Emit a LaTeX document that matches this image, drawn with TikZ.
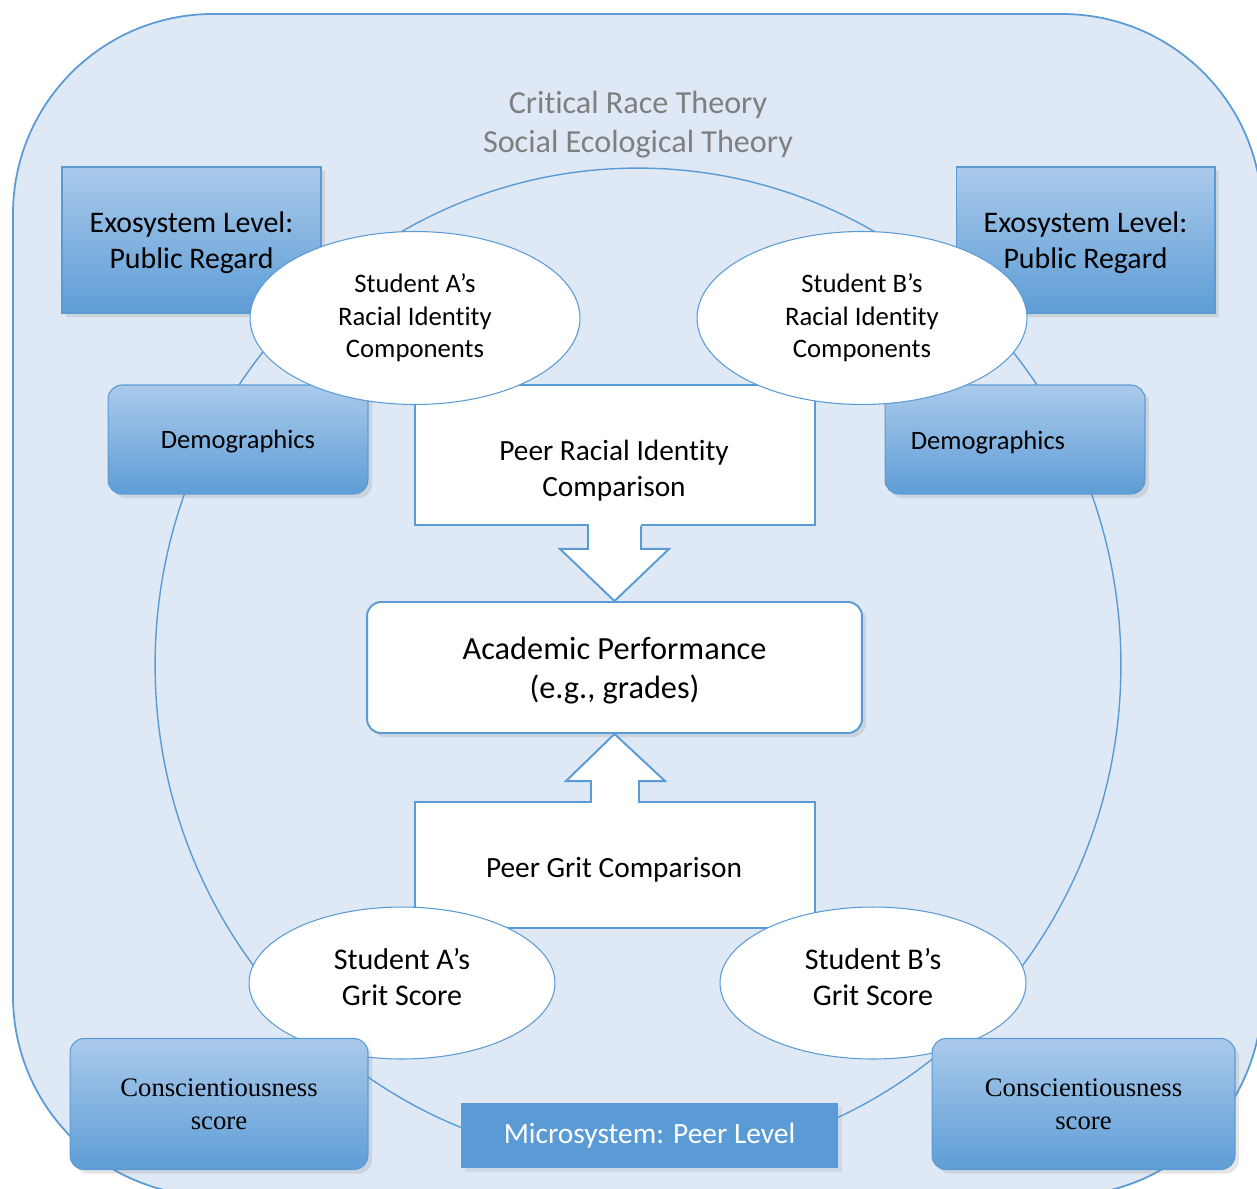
\documentclass[tikz,border=0pt]{standalone}
\usepackage{fontspec}
\setmainfont{Carlito}[Ligatures={CommonOff,ContextualOff}]
\newfontfamily\serifscore{Liberation Serif}
\usetikzlibrary{shapes.geometric, shadows, calc}
\definecolor{ecoline}{HTML}{5B9BD5}
\definecolor{ecobg}{HTML}{DEE9F5}
\definecolor{ecotop}{HTML}{AACAEB}
\definecolor{ecobot}{HTML}{5E9DD6}
\definecolor{ecogray}{HTML}{7F7F7F}

\begin{document}
\begin{tikzpicture}[
    x=0.02cm, y=-0.02cm,
    levelbox/.style={draw=ecoline,line width=0.6pt,top color=ecotop,bottom color=ecobot,align=center,drop shadow={opacity=0.2}},
    identity/.style={ellipse,draw=ecoline,line width=0.6pt,fill=white,align=center,inner sep=0pt},
    peerbox/.style={draw=ecoline,line width=1.1pt,fill=white,align=center,inner sep=0pt,minimum width=8cm},
    blockarrow/.style={draw=ecoline,line width=1.1pt,fill=white},
  ]
    \useasboundingbox (0,0) rectangle (1257,1189);
    \clip (0,0) rectangle (1257,1189);
    \fill[white] (0,0) rectangle (1257,1189);

    % outer frame and peer-level circle
    \draw[ecoline,fill=ecobg,line width=1pt,rounded corners=4cm] (13,14) rectangle (1262,1196);
    \node[ellipse,draw=ecoline,line width=0.8pt,minimum width=19.32cm,minimum height=19.88cm] (peerlevel) at (638,665) {};
    \node[align=center,text=ecogray,font=\fontsize{18.3}{22.2}\selectfont] (theory) at (638,125) {Critical Race Theory\\Social Ecological Theory};

    % exosystem and demographics
    \node[levelbox,minimum width=5.18cm,minimum height=2.92cm,text depth=0pt,font=\fontsize{17}{20.5}\selectfont] (exoA) at (191.5,240) {Exosystem Level:\\Public Regard};
    \node[levelbox,minimum width=5.18cm,minimum height=2.92cm,text depth=0pt,font=\fontsize{17}{20.5}\selectfont] (exoB) at (1085.5,240) {Exosystem Level:\\Public Regard};
    \node[levelbox,rounded corners=8pt,minimum width=5.2cm,minimum height=2.18cm,text depth=0pt,font=\fontsize{15.1}{18}\selectfont] (demoA) at (238,439.5) {Demographics};
    \node[levelbox,rounded corners=8pt,minimum width=5.2cm,minimum height=2.18cm] (demoB) at (1015,439.5) {};
    \node[font=\fontsize{15.1}{18}\selectfont] (demoBtxt) at (988,443) {Demographics};

    % peer comparisons and academic performance
    \node[peerbox,minimum height=2.8cm] (racecmp) at (615,455) {};
    \node[rounded corners=8pt,draw=ecoline,line width=1.1pt,fill=white,align=center,minimum width=9.9cm,minimum height=2.62cm,text depth=0pt,font=\fontsize{18.4}{22.2}\selectfont,drop shadow={opacity=0.2}] (acad) at (614.5,667.5) {Academic Performance\\(e.g., grades)};
    \fill[white] ($(racecmp.south)+(-26,-3)$) rectangle ($(racecmp.south)+(26,2)$);
    \filldraw[blockarrow] ($(racecmp.south)+(-27,0)$) -- ++(0,23) -- ++(-28,0) -- (acad.north)
      -- ($(racecmp.south)+(54,23)$) -- ++(-28,0) -- ++(0,-23);
    \node[align=center,font=\fontsize{16.7}{20.5}\selectfont] (racetxt) at (614,471) {Peer Racial Identity\\Comparison};

    \node[peerbox,minimum height=2.52cm] (gritcmp) at (615,865) {};
    \fill[white] ($(gritcmp.north)+(-23,3)$) rectangle ($(gritcmp.north)+(23,-2)$);
    \filldraw[blockarrow] ($(gritcmp.north)+(-24,0)$) -- ++(0,-20) -- ++(-25,0) -- (acad.south)
      -- ($(gritcmp.north)+(50,-20)$) -- ++(-26,0) -- ++(0,20);
    \node[font=\fontsize{16.7}{20}\selectfont] (grittxt) at (614,870) {Peer Grit Comparison};

    % students
    \node[identity,minimum width=6.6cm,minimum height=3.46cm,font=\fontsize{15.2}{18.5}\selectfont] (raceA) at (415,318) {Student A’s\\Racial Identity\\Components};
    \node[identity,minimum width=6.6cm,minimum height=3.46cm,font=\fontsize{15.2}{18.5}\selectfont] (raceB) at (862,318) {Student B’s\\Racial Identity\\Components};
    \node[identity,minimum width=6.12cm,minimum height=3.04cm] (gritA) at (402,983) {};
    \node[identity,minimum width=6.12cm,minimum height=3.04cm] (gritB) at (873,983) {};
    \node[align=center,font=\fontsize{17.1}{20.5}\selectfont] (gritAtxt) at (402,977) {Student A’s\\Grit Score};
    \node[align=center,font=\fontsize{17.1}{20.5}\selectfont] (gritBtxt) at (873,977) {Student B’s\\Grit Score};

    % conscientiousness and level label
    \node[levelbox,rounded corners=8pt,minimum width=5.96cm,minimum height=2.62cm,font=\serifscore\fontsize{15.2}{18.8}\selectfont] (conA) at (219,1104) {Conscientiousness\\score};
    \node[levelbox,rounded corners=8pt,minimum width=6.06cm,minimum height=2.62cm,font=\serifscore\fontsize{15.2}{18.8}\selectfont] (conB) at (1083.5,1104) {Conscientiousness\\score};
    \node[fill=ecoline,text=white,minimum width=7.54cm,minimum height=1.3cm,font=\fontsize{16.75}{20}\selectfont,drop shadow={opacity=0.15}] (microlabel) at (649.5,1135.5) {Microsystem: Peer Level};
  \end{tikzpicture}
\end{document}
